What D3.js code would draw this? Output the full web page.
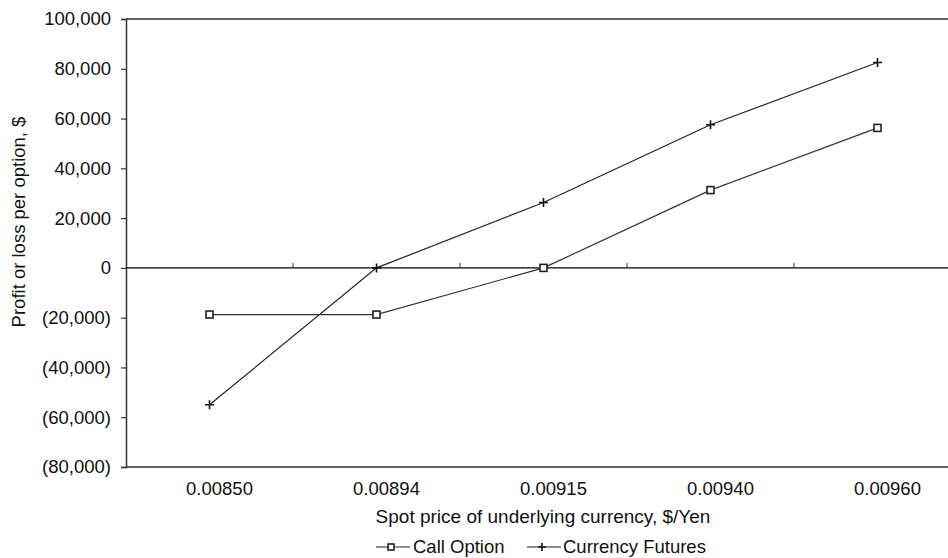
<!DOCTYPE html>
<html>
<head>
<meta charset="utf-8">
<script src="https://cdn.jsdelivr.net/npm/d3@7"></script>
<style>
  body { margin: 0; background: #fff; }
  svg { display: block; font-family: "Liberation Sans", Arial, Helvetica, sans-serif; }
</style>
</head>
<body>
<svg id="chart" width="948" height="558"></svg>
<script>
// Spot prices ($/Yen) and profit/loss per option in $
const spotPrices = ["0.00850", "0.00894", "0.00915", "0.00940", "0.00960"];
const callOption = [-18750, -18750, 0, 31250, 56250];
const currencyFutures = [-55000, 0, 26250, 57500, 82500];
const yTicks = [100000, 80000, 60000, 40000, 20000, 0, -20000, -40000, -60000, -80000];

const svg = d3.select("#chart");
const plotLeft = 126, plotTop = 19, plotBottom = 467, plotRight = 961;
const FS = 18.5;

const x = d3.scaleBand().domain(spotPrices).range([plotLeft, plotRight]);
const y = d3.scaleLinear().domain([-80000, 100000]).range([plotBottom, plotTop]);

const fmt = v => v < 0 ? "(" + d3.format(",")(-v) + ")" : d3.format(",")(v);

// Top and bottom frame lines of the plot area
svg.append("line").attr("x1", plotLeft).attr("x2", 948).attr("y1", y(100000)).attr("y2", y(100000))
  .attr("stroke", "#333").attr("stroke-width", 1.3);
svg.append("line").attr("x1", plotLeft).attr("x2", 948).attr("y1", y(-80000)).attr("y2", y(-80000))
  .attr("stroke", "#333").attr("stroke-width", 1.3);

// Y axis
const yAxis = d3.axisLeft(y).tickValues(yTicks).tickFormat(fmt).tickSize(5).tickPadding(10);
const gy = svg.append("g").attr("transform", `translate(${plotLeft},0)`).call(yAxis);
gy.attr("font-size", FS).attr("font-family", "'Liberation Sans', Arial, sans-serif");
gy.select(".domain").attr("stroke", "#333").attr("stroke-width", 1.5);
gy.selectAll(".tick line").attr("stroke", "#333").attr("stroke-width", 1.2);
gy.selectAll(".tick text").attr("fill", "#111");

// X axis along zero line, with ticks between categories
svg.append("line").attr("x1", plotLeft).attr("x2", 948).attr("y1", y(0)).attr("y2", y(0))
  .attr("stroke", "#000").attr("stroke-width", 1.4);
spotPrices.slice(1).forEach(p => {
  svg.append("line").attr("x1", x(p)).attr("x2", x(p)).attr("y1", y(0)).attr("y2", y(0) - 5)
    .attr("stroke", "#333").attr("stroke-width", 1);
});
// X category labels below the plot
svg.append("g").selectAll("text").data(spotPrices).join("text")
  .attr("x", d => x(d) + x.bandwidth() / 2 + 10)
  .attr("y", 495)
  .attr("text-anchor", "middle").attr("font-size", FS).attr("fill", "#111")
  .text(d => d);

// Axis titles
svg.append("text").attr("x", 543).attr("y", 523).attr("text-anchor", "middle")
  .attr("font-size", 19).attr("fill", "#111")
  .text("Spot price of underlying currency, $/Yen");
svg.append("text").attr("transform", `translate(25,222) rotate(-90)`)
  .attr("text-anchor", "middle").attr("font-size", FS).attr("fill", "#111")
  .text("Profit or loss per option, $");

const cx = d => x(d) + x.bandwidth() / 2;
const line = d3.line().x(d => cx(d.k)).y(d => y(d.v));

const callData = spotPrices.map((k, i) => ({ k, v: callOption[i] }));
const futData = spotPrices.map((k, i) => ({ k, v: currencyFutures[i] }));

svg.append("path").datum(futData).attr("d", line)
  .attr("fill", "none").attr("stroke", "#222").attr("stroke-width", 1.2);
svg.append("path").datum(callData).attr("d", line)
  .attr("fill", "none").attr("stroke", "#333").attr("stroke-width", 1.2);

// Markers
function plus(g, px, py, s) {
  g.append("path").attr("d", `M${px - s},${py}H${px + s}M${px},${py - s}V${py + s}`)
    .attr("stroke", "#111").attr("stroke-width", 1.6).attr("fill", "none");
}
function square(g, px, py, s) {
  g.append("rect").attr("x", px - s).attr("y", py - s).attr("width", 2 * s).attr("height", 2 * s)
    .attr("fill", "#fff").attr("stroke", "#222").attr("stroke-width", 1.6);
}
const mk = svg.append("g");
futData.forEach(d => plus(mk, cx(d.k), y(d.v), 4.5));
callData.forEach(d => square(mk, cx(d.k), y(d.v), 3.5));

// Legend
const lg = svg.append("g");
lg.append("line").attr("x1", 376).attr("x2", 410).attr("y1", 547).attr("y2", 547).attr("stroke", "#222").attr("stroke-width", 1.1);
square(lg, 391, 547, 3);
lg.append("text").attr("x", 413).attr("y", 553).attr("font-size", FS).attr("fill", "#111").text("Call Option");
lg.append("line").attr("x1", 527).attr("x2", 561).attr("y1", 547).attr("y2", 547).attr("stroke", "#222").attr("stroke-width", 1.1);
plus(lg, 542, 547, 4);
lg.append("text").attr("x", 563).attr("y", 553).attr("font-size", FS).attr("fill", "#111").text("Currency Futures");
</script>
</body>
</html>
